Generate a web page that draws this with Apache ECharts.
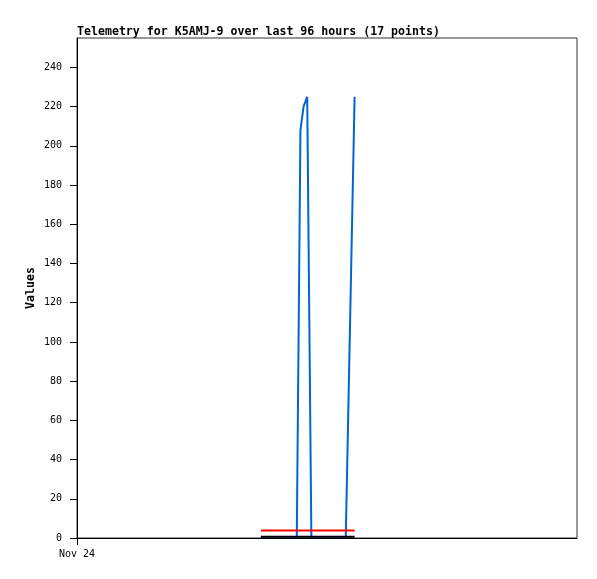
<!DOCTYPE html>
<html>
<head>
<meta charset="utf-8">
<script src="https://cdn.jsdelivr.net/npm/echarts@6/dist/echarts.min.js"></script>
<style>
html,body{margin:0;padding:0;background:#fff;}
#chart{width:597px;height:579px;}
</style>
</head>
<body>
<div id="chart"></div>
<script>
// Hours since start of the 96-hour window (Nov 24 00:00)
var hours = [35.3, 36.6, 37.8, 39.0, 40.2, 41.2, 42.2, 42.9, 43.5, 44.2, 45.0, 46.4, 47.8, 49.2, 50.4, 51.6, 53.3];
var blueValues  = [0, 0, 0, 0, 0, 0, 0, 208, 220, 225, 0, 0, 0, 0, 0, 0, 225];
var redValues   = [3.8, 3.8, 3.8, 3.8, 3.8, 3.8, 3.8, 3.8, 3.8, 3.8, 3.8, 3.8, 3.8, 3.8, 3.8, 3.8, 3.8];
var blackValues = [0.6, 0.6, 0.6, 0.6, 0.6, 0.6, 0.6, 0.6, 0.6, 0.6, 0.6, 0.6, 0.6, 0.6, 0.6, 0.6, 0.6];
var yTicks = [0, 20, 40, 60, 80, 100, 120, 140, 160, 180, 200, 220, 240];
var xTickValues = [0];
var xTickLabels = ['Nov 24'];
var titleText = 'Telemetry for K5AMJ-9 over last 96 hours (17 points)';
var yName = 'Values';

function pairs(vals) { return hours.map(function (h, i) { return [h, vals[i]]; }); }

var chart = echarts.init(document.getElementById('chart'), null, {renderer: 'canvas'});
chart.setOption({
  animation: false,
  backgroundColor: '#fff',
  title: {
    text: titleText,
    left: 77, top: 26, padding: 0,
    textStyle: {fontFamily: 'DejaVu Sans Mono', fontWeight: 'bold', fontSize: 11.6, color: '#000'}
  },
  grid: {left: 77, top: 38, width: 500, height: 500, show: true, borderColor: '#333', borderWidth: 1, containLabel: false},
  xAxis: {
    type: 'value', min: 0, max: 96, z: 10,
    splitLine: {show: false},
    axisLine: {show: true, onZero: false, lineStyle: {color: '#000', width: 1}},
    axisTick: {show: true, length: 7, customValues: xTickValues, lineStyle: {color: '#000'}},
    axisLabel: {
      customValues: xTickValues, margin: 11,
      formatter: function (v) { var i = xTickValues.indexOf(v); return i >= 0 ? xTickLabels[i] : ''; },
      fontFamily: 'DejaVu Sans Mono', fontSize: 10, color: '#000'
    }
  },
  yAxis: {
    type: 'value', min: 0, max: 255, z: 10,
    name: yName, nameLocation: 'middle', nameGap: 40, nameMoveOverlap: false,
    nameTextStyle: {fontFamily: 'DejaVu Sans Mono', fontWeight: 'bold', fontSize: 11.6, color: '#000'},
    splitLine: {show: false},
    axisLine: {show: true, lineStyle: {color: '#000', width: 1}},
    axisTick: {show: true, length: 7, customValues: yTicks, lineStyle: {color: '#000'}},
    axisLabel: {customValues: yTicks, margin: 15, fontFamily: 'DejaVu Sans Mono', fontSize: 10, color: '#000'}
  },
  series: [
    {type: 'line', data: pairs(blueValues), showSymbol: false, symbol: 'none', lineStyle: {color: '#0066cc', width: 2}, z: 2},
    {type: 'line', data: pairs(blackValues), showSymbol: false, symbol: 'none', lineStyle: {color: '#000000', width: 2}, z: 3},
    {type: 'line', data: pairs(redValues), showSymbol: false, symbol: 'none', lineStyle: {color: '#ff0000', width: 2}, z: 4}
  ]
});
</script>
</body>
</html>
